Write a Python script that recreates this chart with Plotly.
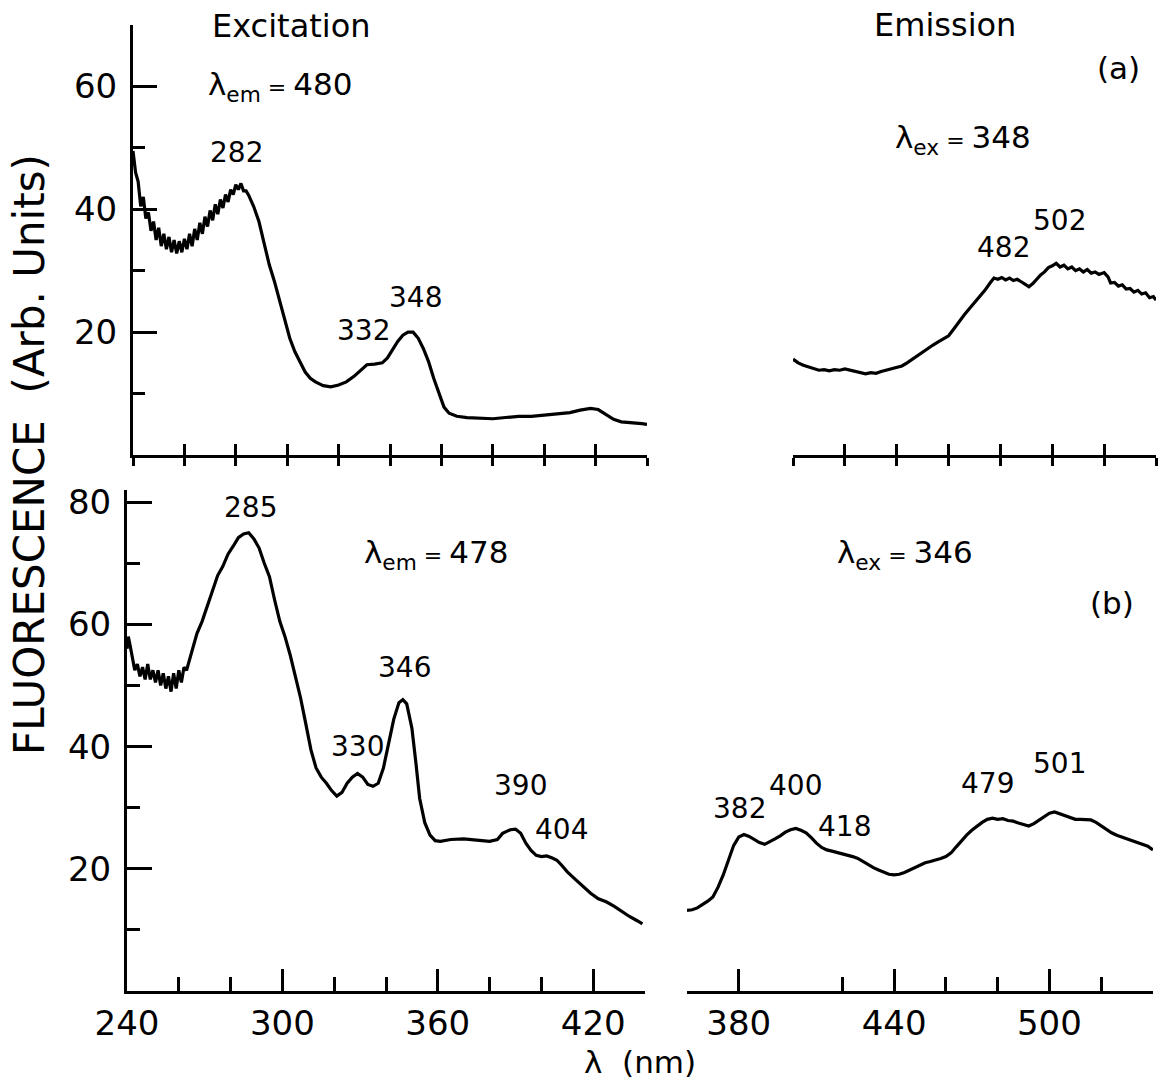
import plotly.graph_objects as go

W, H = 1164, 1087
FONT = "DejaVu Sans"

# ---------------- (a) excitation spectrum, lambda_em = 480 nm ----------------
exc_a_nm = [240, 241, 242, 243, 244, 245, 246, 247, 248, 249, 250, 251, 252, 253, 254,
            255, 256, 257, 258, 259, 260, 261, 262, 263, 264, 265, 266, 267, 268, 269,
            270, 271, 272, 273, 274, 275, 276, 277, 278, 279, 280, 281, 282, 283, 284,
            285, 287, 289, 291, 293, 295, 297, 299, 301, 303, 305, 307, 309, 311, 314,
            317, 320, 323, 326, 329, 331, 334, 337, 339, 341, 343, 345, 347, 349, 351,
            353, 355, 357, 359, 361, 363, 366, 370, 375, 380, 385, 390, 395, 400, 405,
            410, 414, 418, 421, 424, 427, 430, 434, 438, 440]
exc_a_int = [49.5, 46.0, 44.5, 40.5, 42.0, 38.5, 39.5, 36.5, 38.0, 35.0, 37.0, 34.0, 36.0, 33.5, 35.5,
             33.0, 35.0, 32.8, 34.8, 33.0, 35.2, 33.5, 36.0, 34.0, 36.8, 35.0, 37.8, 36.0, 38.8, 37.2,
             39.8, 38.2, 40.8, 39.2, 41.6, 40.2, 42.4, 41.2, 43.2, 42.4, 44.0, 43.2, 44.2, 43.0, 43.0,
             42.3, 40.4, 38.0, 34.5, 31.0, 28.3, 25.2, 21.8, 19.0, 16.8, 15.0, 13.5, 12.5, 11.9, 11.3,
             11.1, 11.4, 11.9, 12.8, 14.0, 14.7, 14.8, 15.0, 15.8, 17.2, 18.5, 19.5, 20.0, 20.0, 19.0,
             17.3, 15.2, 12.5, 10.0, 7.8, 6.8, 6.3, 6.1, 6.0, 5.9, 6.1, 6.3, 6.3, 6.5, 6.6,
             6.9, 7.3, 7.6, 7.4, 6.6, 5.8, 5.4, 5.3, 5.1, 5.0]

# ---------------- (a) emission spectrum, lambda_ex = 348 nm ----------------
emi_a_nm = [400, 402, 404, 406, 408, 410, 412, 414, 416, 418, 420, 422, 424, 426, 428,
            430, 432, 434, 436, 438, 440, 442, 444, 446, 448, 450, 452, 454, 456, 458,
            460, 462, 464, 466, 468, 470, 472, 474, 476, 477.5, 479, 480.5, 482, 483.5, 485,
            486.5, 488, 489.5, 491, 492.5, 494, 495.5, 497, 498.5, 500, 501.5, 503, 504.5, 506,
            507.5, 509, 510.5, 512, 513.5, 515, 516.5, 518, 520, 521.5, 522.5, 524, 525.5, 527,
            528.5, 530, 531.5, 533, 534.5, 536, 537.5, 539, 540]
emi_a_int = [15.6, 15.0, 14.6, 14.3, 14.0, 13.8, 13.9, 13.7, 13.9, 13.8, 14.0, 13.8, 13.6, 13.5, 13.2,
             13.4, 13.3, 13.6, 13.8, 14.0, 14.2, 14.5, 15.0, 15.6, 16.2, 16.8, 17.4, 17.9, 18.4, 18.9,
             19.4, 20.5, 21.7, 22.8, 23.8, 24.8, 25.8, 26.8, 28.0, 28.8, 28.6, 28.9, 28.5, 28.8, 28.4,
             28.6, 28.2, 27.8, 27.4, 27.9, 28.6, 29.3, 29.8, 30.5, 30.8, 31.2, 30.6, 30.9, 30.3,
             30.6, 30.0, 30.3, 29.8, 30.2, 29.6, 29.8, 29.4, 29.7, 29.0, 28.0, 28.1, 27.5, 27.7,
             27.0, 27.1, 26.5, 26.8, 26.2, 26.4, 25.6, 25.8, 25.2]

# ---------------- (b) excitation spectrum, lambda_em = 478 nm ----------------
exc_b_nm = [240, 240.5, 241, 242, 243, 244, 245, 246, 247, 248, 249, 250, 251, 252, 253,
            254, 255, 256, 257, 258, 259, 260, 261, 262, 263, 265, 267, 269, 271, 273,
            275, 277, 279, 281, 283, 285, 287, 289, 291, 293, 295, 297, 299, 301, 303,
            305, 307, 309, 311, 313, 315, 317, 319, 321, 323, 325, 327, 329, 331, 333,
            335, 337, 339, 341, 343, 345, 346.5, 348, 350, 351.5, 353, 355, 357, 359, 361,
            365, 370, 375, 380, 383, 385, 388, 390, 392, 394, 396, 398, 400, 402, 404,
            406, 408, 410, 413, 416, 419, 422, 425, 428, 431, 434, 437, 439]
exc_b_int = [56.0, 58.0, 57.0, 55.0, 52.5, 53.5, 51.5, 53.0, 51.0, 53.5, 51.0, 52.5, 50.5, 52.5, 50.0,
             52.0, 49.5, 51.5, 49.0, 52.0, 49.5, 52.5, 50.5, 53.0, 52.5, 55.5, 58.5, 60.5, 63.0, 65.5,
             68.0, 69.5, 71.5, 72.8, 74.2, 74.8, 75.0, 74.0, 72.5, 70.0, 67.8, 64.0, 60.5, 58.0, 55.0,
             51.5, 48.0, 43.8, 39.5, 36.5, 35.0, 34.0, 32.8, 31.9, 32.5, 34.0, 35.0, 35.6, 35.0, 33.8,
             33.5, 34.0, 36.5, 40.5, 44.5, 47.2, 47.7, 47.0, 43.0, 37.5, 31.5, 27.5, 25.5, 24.6, 24.5,
             24.8, 24.9, 24.7, 24.5, 24.8, 25.8, 26.4, 26.5, 25.8, 24.2, 23.0, 22.2, 22.0, 22.1, 21.8,
             21.4, 20.5, 19.5, 18.3, 17.2, 16.0, 15.1, 14.6, 13.9, 13.0, 12.2, 11.5, 11.0]

# ---------------- (b) emission spectrum, lambda_ex = 346 nm ----------------
emi_b_nm = [360, 362, 364, 366, 368, 370, 372, 374, 376, 378, 380, 382, 384, 386, 388,
            390, 392, 394, 396, 398, 400, 402, 404, 406, 408, 410, 412, 414, 416, 418,
            420, 422, 424, 426, 428, 430, 432, 434, 436, 438, 440, 442, 444, 446, 448,
            450, 452, 454, 456, 458, 460, 462, 464, 466, 468, 470, 472, 474, 476, 478,
            480, 482, 484, 486, 488, 490, 492, 494, 496, 498, 500, 502, 504, 506, 508,
            510, 512, 514, 516, 518, 520, 522, 524, 526, 528, 530, 532, 534, 536, 538, 540]
emi_b_int = [13.2, 13.3, 13.6, 14.1, 14.7, 15.4, 17.0, 19.0, 21.5, 23.8, 25.2, 25.6, 25.3, 24.8, 24.3,
             24.0, 24.4, 24.9, 25.4, 26.0, 26.4, 26.6, 26.3, 25.9, 25.1, 24.2, 23.5, 23.1, 22.9, 22.7,
             22.5, 22.3, 22.0, 21.7, 21.2, 20.6, 20.2, 19.8, 19.4, 19.1, 19.0, 19.1, 19.4, 19.8, 20.3,
             20.7, 21.0, 21.2, 21.4, 21.7, 22.0, 22.6, 23.6, 24.6, 25.5, 26.3, 27.0, 27.6, 28.1, 28.3,
             28.1, 28.2, 27.9, 27.8, 27.5, 27.2, 27.0, 27.4, 28.0, 28.6, 29.1, 29.3, 29.0, 28.6, 28.3,
             28.1, 28.1, 28.0, 28.0, 27.6, 27.0, 26.4, 25.9, 25.5, 25.2, 24.9, 24.7, 24.4, 24.1, 23.7, 23.1]

# Peak wavelengths labelled on each spectrum
peaks_exc_a = [282, 332, 348]
peaks_emi_a = [482, 502]
peaks_exc_b = [285, 330, 346, 390, 404]
peaks_emi_b = [382, 400, 418, 479, 501]

# Axis tick values
exc_a_ticks = [240, 260, 280, 300, 320, 340, 360, 380, 400, 420, 440]
emi_a_ticks = [400, 420, 440, 460, 480, 500, 520, 540]
exc_b_major = [240, 300, 360, 420]
exc_b_minor = [260, 280, 320, 340, 380, 400, 440]
emi_b_major = [380, 440, 500]
emi_b_minor = [360, 420, 460, 480, 520, 540]
y_a_major = [20, 40, 60]
y_a_minor = [10, 30, 50]
y_b_major = [20, 40, 60, 80]
y_b_minor = [10, 30, 50, 70]


def fx(px):
    return px / W


def fy(py):
    return 1 - py / H


LINE = dict(color="black", width=3.2)
fig = go.Figure()
fig.add_trace(go.Scatter(x=exc_a_nm, y=exc_a_int, xaxis="x", yaxis="y", mode="lines", line=LINE))
fig.add_trace(go.Scatter(x=emi_a_nm, y=emi_a_int, xaxis="x2", yaxis="y2", mode="lines", line=LINE))
fig.add_trace(go.Scatter(x=exc_b_nm, y=exc_b_int, xaxis="x3", yaxis="y3", mode="lines", line=LINE))
fig.add_trace(go.Scatter(x=emi_b_nm, y=emi_b_int, xaxis="x4", yaxis="y4", mode="lines", line=LINE))
# empty traces so the outward-tick overlay axes of panel (a) get drawn
fig.add_trace(go.Scatter(x=[], y=[], xaxis="x5", yaxis="y", mode="lines"))
fig.add_trace(go.Scatter(x=[], y=[], xaxis="x6", yaxis="y2", mode="lines"))

tickfont = dict(family=FONT, size=34, color="black")
base = dict(showgrid=False, zeroline=False, showline=True, linecolor="black", linewidth=3,
            tickcolor="black", tickwidth=3, tickfont=tickfont, automargin=False)

top_y_dom = [fy(455), fy(25)]
bot_y_dom = [fy(991), fy(490)]

fig.update_layout(
    width=W, height=H, margin=dict(l=0, r=0, t=0, b=0, pad=0, autoexpand=False),
    paper_bgcolor="white", plot_bgcolor="rgba(0,0,0,0)", showlegend=False,
    font=dict(family=FONT, color="black"),
    # (a) excitation
    xaxis=dict(base, domain=[fx(133), fx(647)], range=[240, 440], anchor="y",
               tickmode="array", tickvals=exc_a_ticks, ticks="inside", ticklen=11,
               showticklabels=False),
    xaxis5=dict(base, domain=[fx(133), fx(647)], range=[240, 440], anchor="y",
                overlaying="x", tickmode="array", tickvals=exc_a_ticks, ticks="outside",
                ticklen=8, showticklabels=False),
    yaxis=dict(base, domain=top_y_dom, range=[0, 70], anchor="x",
               tickmode="array", tickvals=y_a_major, ticks="inside", ticklen=24,
               ticklabelstandoff=6,
               minor=dict(tickmode="array", tickvals=y_a_minor, ticks="inside", ticklen=12,
                          tickwidth=3, tickcolor="black")),
    # (a) emission
    xaxis2=dict(base, domain=[fx(793), fx(1156)], range=[400, 540], anchor="y2",
                tickmode="array", tickvals=emi_a_ticks, ticks="inside", ticklen=11,
                showticklabels=False),
    xaxis6=dict(base, domain=[fx(793), fx(1156)], range=[400, 540], anchor="y2",
                overlaying="x2", tickmode="array", tickvals=emi_a_ticks, ticks="outside",
                ticklen=8, showticklabels=False),
    yaxis2=dict(domain=top_y_dom, range=[0, 70], anchor="x2", visible=False, automargin=False),
    # (b) excitation
    xaxis3=dict(base, domain=[fx(127), fx(645)], range=[240, 440], anchor="y3",
                tickmode="array", tickvals=exc_b_major, ticks="inside", ticklen=22,
                ticklabelstandoff=0,
                minor=dict(tickmode="array", tickvals=exc_b_minor, ticks="inside", ticklen=14,
                           tickwidth=3, tickcolor="black")),
    yaxis3=dict(base, domain=bot_y_dom, range=[0, 82], anchor="x3",
                tickmode="array", tickvals=y_b_major, ticks="inside", ticklen=25,
                ticklabelstandoff=6,
                minor=dict(tickmode="array", tickvals=y_b_minor, ticks="inside", ticklen=13,
                           tickwidth=3, tickcolor="black")),
    # (b) emission
    xaxis4=dict(base, domain=[fx(687), fx(1153)], range=[360, 540], anchor="y4",
                tickmode="array", tickvals=emi_b_major, ticks="inside", ticklen=22,
                ticklabelstandoff=0,
                minor=dict(tickmode="array", tickvals=emi_b_minor, ticks="inside", ticklen=14,
                           tickwidth=3, tickcolor="black")),
    yaxis4=dict(domain=bot_y_dom, range=[0, 82], anchor="x4", visible=False, automargin=False),
)

PEAK_FONT = dict(family=FONT, size=28, color="black")


def peak_labels(peaks, xref, yref, positions):
    out = []
    for p, (dx, yv) in zip(peaks, positions):
        out.append(dict(text=str(p), x=p, y=yv, xref=xref, yref=yref, xshift=dx,
                        showarrow=False, font=PEAK_FONT, xanchor="center", yanchor="middle"))
    return out


ann = []
# (horizontal pixel shift from the peak wavelength, label height in data units)
ann += peak_labels(peaks_exc_a, "x", "y", [(-4, 49.3), (-6, 20.3), (5, 25.7)])
ann += peak_labels(peaks_emi_a, "x2", "y2", [(-2, 33.7), (2, 38.2)])
ann += peak_labels(peaks_exc_b, "x3", "y3", [(7, 79.2), (-3, 40.1), (3, 53.0), (5, 33.7), (10, 26.4)])
ann += peak_labels(peaks_emi_b, "x4", "y4", [(-4, 29.8), (5, 33.7), (7, 27.0), (-8, 33.9), (7, 37.2)])

TXT = dict(family=FONT, size=31, color="black")


def paper_text(text, px, py, xanchor="center", size=None, angle=0):
    f = dict(TXT)
    if size:
        f["size"] = size
    return dict(text=text, x=fx(px), y=fy(py), xref="paper", yref="paper", showarrow=False,
                font=f, xanchor=xanchor, yanchor="middle", textangle=angle)


lam_em = "λ<sub>em</sub><span style='font-size:22px'> = </span>"
lam_ex = "λ<sub>ex</sub><span style='font-size:22px'> = </span>"
ann += [
    paper_text("Excitation", 291, 26, size=32),
    paper_text("Emission", 945, 25, size=32),
    paper_text("(a)", 1118, 68),
    paper_text("(b)", 1112, 603),
    paper_text(lam_em + "480", 206, 86, xanchor="left"),
    paper_text(lam_ex + "348", 893, 139, xanchor="left"),
    paper_text(lam_em + "478", 362, 554, xanchor="left"),
    paper_text(lam_ex + "346", 835, 554, xanchor="left"),
    paper_text("λ  (nm)", 640, 1062, size=31),
    paper_text("FLUORESCENCE  (Arb. Units)", 30, 455, size=42, angle=-90),
]
fig.update_layout(annotations=ann)

fig.write_html("out.html")
